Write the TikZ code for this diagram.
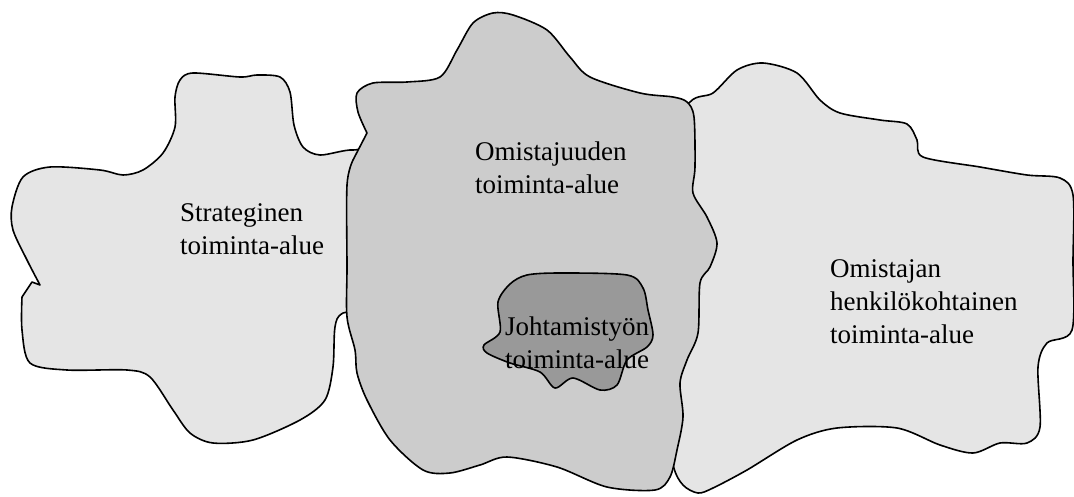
\documentclass[tikz,border=0pt]{standalone}
\usepackage{fontspec}
\setmainfont{Liberation Serif}
\tikzset{blob/.style={draw,line width=1.6pt,line join=round}}
\tikzset{nimi/.style={align=left,anchor=base west,inner sep=0pt,font=\fontsize{27}{33}\selectfont}}
\colorlet{vaalea}{black!10}
\colorlet{keski}{black!20}
\colorlet{tumma}{black!40}

\begin{document}
\begin{tikzpicture}[x=1pt,y=-1pt]
  \useasboundingbox (0,0) rectangle (1074,496);
  \draw[blob,fill=vaalea] (40,285) -- (32,282) -- plot[smooth,tension=.5] coordinates {(22,297) (22,330) (30,363) (67,370) (127,370) (150,377) (173,410) (190,433) (213,443) (253,440) (300,420) (325,400) (333,367) (335,327) (343,313) (380,300) (380,160) (353,150) (320,155) (303,147) (294,125) (290,92) (280,77) (257,75) (240,77) (193,73) (180,80) (175,97) (175,127) (163,153) (143,170) (123,175) (100,170) (50,167) (23,177) (12,207) (13,230) (27,260) (40,285)} -- cycle;
  \draw[blob,fill=vaalea] plot[smooth cycle,tension=.5] coordinates {(690,102) (713,93) (737,70) (763,63) (797,73) (820,100) (840,113) (880,120) (907,124) (917,140) (923,157) (980,167) (1027,175) (1060,178) (1073,195) (1073,260) (1072,330) (1047,343) (1038,367) (1040,427) (1027,443) (1000,443) (973,453) (940,445) (897,428) (837,428) (797,440) (747,470) (713,488) (698,493) (683,485) (673,465) (660,400) (660,150)};
  \draw[blob,fill=keski] (367,133) -- plot[smooth,tension=.5] coordinates {(353,160) (347,185) (347,267) (347,317) (355,350) (357,373) (367,400) (390,440) (423,470) (450,473) (480,465) (507,457) (557,467) (607,487) (655,490) (670,477) (677,450) (683,417) (680,383) (687,360) (698,333) (700,283) (710,267) (717,243) (707,217) (693,193) (695,167) (694,117) (687,102) (673,97) (640,93) (590,77) (570,57) (547,30) (513,15) (493,13) (473,23) (457,50) (440,77) (407,82) (373,83) (357,93) (358,112) (367,133)} -- cycle;
  \draw[blob,fill=tumma] plot[smooth cycle,tension=.5] coordinates {(527,275) (560,273) (627,275) (643,288) (648,310) (653,335) (647,347) (627,360) (617,385) (600,390) (573,378) (555,388) (540,372) (510,363) (487,353) (484,345) (500,332) (498,302) (510,284)};
  \node[nimi] (strateginen) at (180,254) {Strateginen\\toiminta-alue};
  \node[nimi] (omistajuus) at (475,193) {Omistajuuden\\toiminta-alue};
  \node[nimi] (johtamistyo) at (505,368) {Johtamistyön\\toiminta-alue};
  \node[nimi] (henkilo) at (830,343) {Omistajan\\henkilökohtainen\\toiminta-alue};
\end{tikzpicture}
\end{document}
